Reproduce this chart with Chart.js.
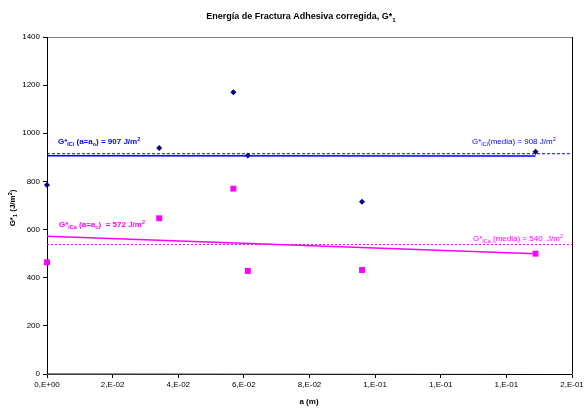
<!DOCTYPE html>
<html lang="es">
<head>
  <meta charset="UTF-8">
  <title>Energía de Fractura Adhesiva corregida</title>
  <script src="https://cdn.jsdelivr.net/npm/chart.js"></script>
  <style>
    html, body { margin: 0; padding: 0; background: #fff; }
    #wrap { position: relative; width: 587px; height: 409px; }
  </style>
</head>
<body>
  <div id="wrap"><canvas id="chart" width="587" height="409"></canvas></div>
  <script>
    // crack length a (m) for each specimen
    const aValues = [0, 0.0342, 0.0568, 0.0612, 0.0960, 0.1489];
    // G*ICi values (blue diamonds)
    const gIci = [785, 939, 1170, 908, 716, 923];
    // G*ICa values (pink squares)
    const gIca = [464, 647, 770, 428, 432, 500];

    // fit lines (solid) and mean lines (dashed), start/end
    const iciFitX = [0, 0.1489];
    const iciFitY = [907, 906];
    const icaFitX = [0, 0.1489];
    const icaFitY = [572, 500];
    const meanX = [0, 0.16];
    const iciMeanY = [915, 915];
    const icaMeanY = [538, 538];

    const xTickLabels = ['0,E+00', '2,E-02', '4,E-02', '6,E-02', '8,E-02', '1,E-01', '1,E-01', '1,E-01', '2,E-01'];

    const BLUE = '#0000ff';
    const NAVY = '#000080';
    const PINK = '#ff00ff';
    const FONT = 'Arial, "Liberation Sans", sans-serif';

    const toPts = (xs, ys) => xs.map((x, i) => ({ x: x, y: ys[i] }));

    // draws text made of normal / subscript / superscript pieces
    function drawRich(ctx, parts, x, y, size, bold, color, align) {
      const w = bold ? 'bold ' : '';
      let total = 0;
      parts.forEach(p => {
        const s = p[1] === 'n' ? size : size * 0.68;
        ctx.font = w + s + 'px ' + FONT;
        total += ctx.measureText(p[0]).width;
      });
      let cx = x;
      if (align === 'center') cx = x - total / 2;
      if (align === 'right') cx = x - total;
      ctx.fillStyle = color;
      ctx.textBaseline = 'alphabetic';
      ctx.textAlign = 'left';
      parts.forEach(p => {
        const s = p[1] === 'n' ? size : size * 0.68;
        ctx.font = w + s + 'px ' + FONT;
        let dy = 0;
        if (p[1] === 'sub') dy = size * 0.3;
        if (p[1] === 'sup') dy = -size * 0.42;
        ctx.fillText(p[0], cx, y + dy);
        cx += ctx.measureText(p[0]).width;
      });
    }

    const textPlugin = {
      id: 'texts',
      beforeDatasetsDraw(chart) {
        const ctx = chart.ctx;
        const area = chart.chartArea;
        ctx.save();
        // plot frame
        ctx.strokeStyle = '#808080';
        ctx.lineWidth = 1;
        ctx.strokeRect(area.left + 0.5, area.top + 0.5, area.right - area.left, area.bottom - area.top);
        ctx.strokeStyle = '#000';
        ctx.beginPath();
        ctx.moveTo(area.left + 0.5, area.top);
        ctx.lineTo(area.left + 0.5, area.bottom);
        ctx.lineTo(area.right, area.bottom + 0.5);
        ctx.moveTo(area.right + 0.5, area.top);
        ctx.lineTo(area.right + 0.5, area.bottom);
        ctx.stroke();
        ctx.restore();
      },
      afterDraw(chart) {
        const ctx = chart.ctx;
        ctx.save();
        // title
        drawRich(ctx, [['Energía de Fractura Adhesiva corregida, G*', 'n'], ['1', 'sub']], 301, 19, 9, true, '#000', 'center');
        // x title
        drawRich(ctx, [['a (m)', 'n']], 309, 404, 8, true, '#000', 'center');
        // y title
        ctx.save();
        ctx.translate(15, 208);
        ctx.rotate(-Math.PI / 2);
        drawRich(ctx, [['G*', 'n'], ['1', 'sub'], [' (J/m', 'n'], ['2', 'sup'], [')', 'n']], 0, 0, 8, true, '#000', 'center');
        ctx.restore();

        // annotations
        drawRich(ctx, [['G*', 'n'], ['ICi', 'sub'], [' (a=a', 'n'], ['o', 'sub'], [') = 907 J/m', 'n'], ['2', 'sup']], 58, 144, 8, true, BLUE, 'left');
        drawRich(ctx, [['G*', 'n'], ['ICi', 'sub'], ['(media) = 908 J/m', 'n'], ['2', 'sup']], 472, 144, 8, false, BLUE, 'left');
        drawRich(ctx, [['G*', 'n'], ['ICa', 'sub'], [' (a=a', 'n'], ['o', 'sub'], [')  = 572 J/m', 'n'], ['2', 'sup']], 59, 227, 8, true, PINK, 'left');
        drawRich(ctx, [['G*', 'n'], ['ICa', 'sub'], [' (media) = 540  J/m', 'n'], ['2', 'sup']], 473, 241, 8, false, PINK, 'left');
        ctx.restore();
      }
    };

    new Chart(document.getElementById('chart').getContext('2d'), {
      type: 'scatter',
      data: {
        datasets: [
          {
            label: 'G*ICi (media)',
            data: toPts(meanX, iciMeanY),
            showLine: true,
            borderColor: BLUE,
            borderWidth: 1,
            borderDash: [3, 2],
            pointRadius: 0
          },
          {
            label: 'G*ICi (a=ao)',
            data: toPts(iciFitX, iciFitY),
            showLine: true,
            borderColor: BLUE,
            borderWidth: 1.5,
            pointRadius: 0
          },
          {
            label: 'G*ICa (media)',
            data: toPts(meanX, icaMeanY),
            showLine: true,
            borderColor: PINK,
            borderWidth: 1,
            borderDash: [2, 2],
            pointRadius: 0
          },
          {
            label: 'G*ICa (a=ao)',
            data: toPts(icaFitX, icaFitY),
            showLine: true,
            borderColor: PINK,
            borderWidth: 1.5,
            pointRadius: 0
          },
          {
            label: 'G*ICi',
            data: toPts(aValues, gIci),
            pointStyle: 'rectRot',
            pointRadius: 3,
            backgroundColor: NAVY,
            borderColor: NAVY,
            borderWidth: 0,
            clip: false
          },
          {
            label: 'G*ICa',
            data: toPts(aValues, gIca),
            pointStyle: 'rect',
            pointRadius: 4.2,
            backgroundColor: PINK,
            borderColor: PINK,
            borderWidth: 0,
            clip: false
          }
        ]
      },
      options: {
        responsive: false,
        animation: false,
        layout: { padding: { top: 37, right: 15, left: 0, bottom: 0 } },
        plugins: {
          legend: { display: false },
          tooltip: { enabled: false }
        },
        scales: {
          x: {
            type: 'linear',
            min: 0,
            max: 0.16,
            afterBuildTicks: (scale) => {
              scale.ticks = xTickLabels.map((l, i) => ({ value: i * 0.02 }));
            },
            afterFit: (scale) => { scale.height = 35; },
            ticks: {
              color: '#000',
              font: { family: FONT, size: 8 },
              padding: 2,
              maxRotation: 0,
              autoSkip: false,
              callback: (v, i) => xTickLabels[i]
            },
            grid: { drawOnChartArea: false, drawTicks: true, tickLength: 4, color: '#000' },
            border: { color: '#000' }
          },
          y: {
            min: 0,
            max: 1400,
            afterFit: (scale) => { scale.width = 47; },
            ticks: {
              stepSize: 200,
              color: '#000',
              font: { family: FONT, size: 8 },
              padding: 3,
              callback: (v) => String(v)
            },
            grid: { drawOnChartArea: false, drawTicks: true, tickLength: 4, color: '#000' },
            border: { color: '#000' }
          }
        }
      },
      plugins: [textPlugin]
    });
  </script>
</body>
</html>
